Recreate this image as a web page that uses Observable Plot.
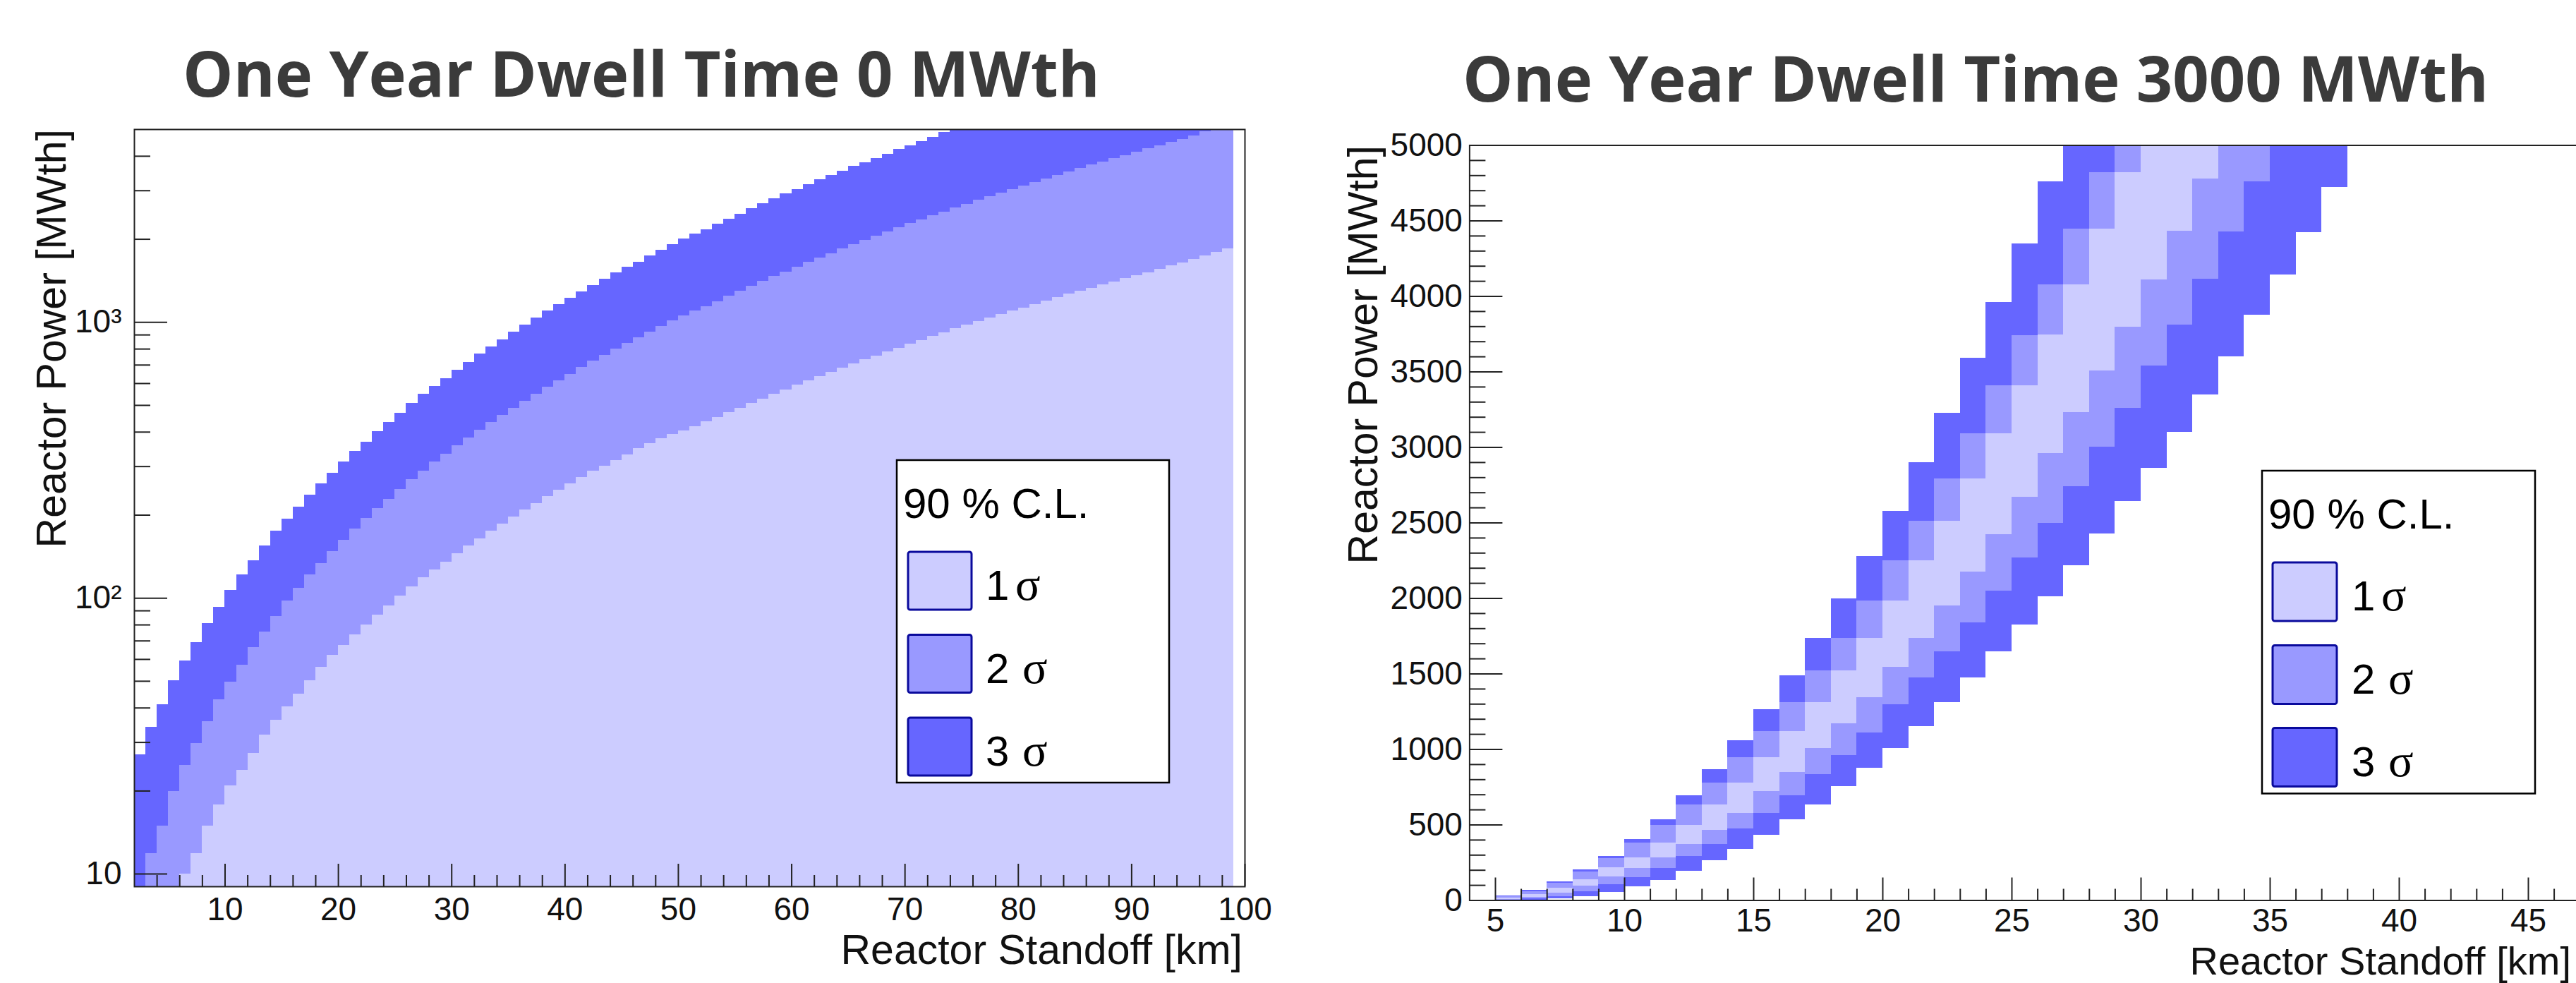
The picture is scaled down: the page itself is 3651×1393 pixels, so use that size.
<!DOCTYPE html>
<html>
<head>
<meta charset="utf-8">
<script src="https://cdn.jsdelivr.net/npm/d3@7"></script>
<script src="https://cdn.jsdelivr.net/npm/@observablehq/plot@0.6"></script>
<style>
  html, body { margin:0; padding:0; background:#fff; }
  body { width:3651px; height:1393px; overflow:hidden; position:relative; }
  #left, #right, #overlay { position:absolute; top:0; }
  #left { left:0; width:1830px; height:1393px; }
  #right { left:1850px; width:2016px; height:1393px; }
  #overlay { left:0; width:3651px; height:1393px; pointer-events:none; }
</style>
</head>
<body>
<div id="left"></div>
<div id="right"></div>
<svg id="overlay" width="3651" height="1393"></svg>
<script>
// ---------- colours ----------
const LIGHT = "#ccccff", MID = "#9999ff", DARK = "#6666ff";

// ---------- left panel: 1 km bins starting at these standoffs ----------
const leftKm = [2,3,4,5,6,7,8,9,10,11,12,13,14,15,16,17,18,19,20,21,22,23,24,25,26,27,28,29,30,31,32,33,34,35,36,37,38,39,40,41,42,43,44,45,46,47,48,49,50,51,52,53,54,55,56,57,58,59,60,61,62,63,64,65,66,67,68,69,70,71,72,73,74,75,76,77,78,79,80,81,82,83,84,85,86,87,88,89,90,91,92,93,94,95,96,97,98];
// upper power limit (MWth) of each sigma region per bin
const left1 = [null,null,null,null,10,11.9,14.9,17.8,20.9,23.8,
  27.4,32.0,36.1,40.3,44.9,50.3,56.1,62.1,67.6,73.8,
  80.1,86.8,94.1,102,109.7,118.5,126.9,135.4,145,154.7,
  164.4,174.7,185.5,197.1,208.6,220.8,233.5,247.2,259.4,274.5,
  288.2,301.3,316.2,331.9,348.5,364.4,378,392,405,420,
  436,452,470,489,509,528,550,570,592,614,
  636,660,684,707,733,757,782,807,834,861,
  890,919,949,976,1008,1037,1067,1098,1129,1161,
  1195,1229,1264,1300,1332,1370,1404,1444,1480,1516,
  1560,1600,1642,1690,1740,1795,1848];
const left2 = [null,11.9,14.9,19.9,24.8,29.8,35.7,42.8,49.7,57.3,
  66.2,75.4,86.1,98.0,108.4,121.4,133.8,148.0,162.4,178.2,
  194.8,211.2,228.9,248.2,269,288.2,311.2,333.3,357,380.8,
  406.2,433.4,460.6,487.3,517.6,550.1,582,615.9,649.1,686.8,
  723.8,759.8,800.8,840.6,882.3,922.3,968.2,1012,1058,1098,
  1142,1190,1243,1295,1354,1410,1468,1522,1585,1650,
  1712,1775,1848,1917,1980,2052,2129,2199,2280,2355,
  2432,2512,2594,2680,2768,2859,2941,3025,3124,3214,
  3320,3415,3513,3614,3718,3824,3933,4030,4145,4264,
  4369,4494,4604,4736,4900,5000,5000];
const left3 = [27.1,34.0,41.1,50.3,59.2,69.0,81.0,93.0,106.7,121.4,
  137,154.7,174.7,194,213.7,236.4,259.4,284.7,312.4,341.6,
  368.7,401.2,435.1,469.8,507.4,547.6,584.4,626,670.6,715.4,
  766.3,813.9,864.8,922.3,980,1037,1098,1157,1224,1290,
  1359,1432,1510,1585,1657,1746,1826,1917,2003,2086,
  2172,2271,2373,2472,2584,2690,2813,2917,3037,3162,
  3292,3400,3541,3672,3793,3933,4078,4229,4369,4530,
  4697,4872,5000,5000,5000,5000,5000,5000,5000,5000,
  5000,5000,5000,5000,5000,5000,5000,5000,5000,5000,
  5000,5000,5000,5000,5000,5000,5000];

// ---------- right panel: 1 km bins, six boundaries per bin (MWth) ----------
const rightKm = [5,6,7,8,9,10,11,12,13,14,15,16,17,18,19,20,21,22,23,24,25,26,27,28,29,30,31,32,33,34,35,36,37];
const r3lo = [0,0,10,28,55,89,131,195,265,339,434,537,632,754,875,1009,1153,1313,1473,1648,1824,2012,2216,2428,2641,2864,3101,3350,3602,3874,4144,4422,4722];
const r2lo = [3,10,28,60,105,153,211,291,371,473,578,696,834,961,1112,1297,1473,1648,1840,2048,2271,2497,2741,3003,3260,3538,3812,4113,4427,4761,5000,5000,5000];
const r1lo = [8,22,50,95,155,211,281,371,466,578,722,850,1009,1169,1345,1543,1738,1952,2175,2421,2670,2960,3230,3505,3796,4110,4430,4778,5000,5000,5000,5000,5000];
const r1hi = [15,38,80,140,215,281,380,498,632,779,946,1121,1313,1520,1738,1984,2249,2511,2792,3092,3411,3745,4075,4444,4820,5000,5000,5000,5000,5000,5000,5000,5000];
const r2hi = [25,60,115,190,278,380,498,632,779,946,1121,1313,1520,1738,1984,2249,2511,2792,3092,3411,3741,4075,4444,4820,5000,5000,5000,5000,5000,5000,5000,5000,5000];
const r3hi = [29,67,125,201,291,402,537,696,866,1057,1265,1489,1738,2000,2278,2575,2900,3226,3590,3958,4350,4760,5000,5000,5000,5000,5000,5000,5000,5000,5000,5000,5000];

// ---------- ticks and labels ----------
const leftYTicks = [10, 100, 1000];
const leftYTickLabels = ["10", "10\u00B2", "10\u00B3"];
const leftYMinor = [20,30,40,50,60,70,80,90,200,300,400,500,600,700,800,900,2000,3000,4000];
const leftXTicks = [10,20,30,40,50,60,70,80,90,100];
const leftXMinor = d3.range(4, 100, 2).filter(v => v % 10 !== 0);
const rightYTicks = [0,500,1000,1500,2000,2500,3000,3500,4000,4500,5000];
const rightYMinor = d3.range(100, 5000, 100).filter(v => v % 500 !== 0);
const rightXTicks = [5,10,15,20,25,30,35,40,45,50];
const rightXLabels = [5,10,15,20,25,30,35,40,45];
const rightXMinor = d3.range(5, 50, 1).filter(v => v % 5 !== 0);

const titles = ["One Year Dwell Time 0 MWth", "One Year Dwell Time 3000 MWth"];
const yTitle = "Reactor Power [MWth]";
const xTitle = "Reactor Standoff [km]";
const legendHeader = "90 % C.L.";
const legendItems = [{n: "1", color: LIGHT}, {n: "2", color: MID}, {n: "3", color: DARK}];

const FONT = "'Liberation Sans', Arial, Helvetica, sans-serif";
const TICKFONT = 46;
const baseStyle = {fontFamily: FONT, fontSize: TICKFONT + "px", color: "#111", background: "transparent", maxWidth: "none", overflow: "visible"};

// ---------- left plot ----------
const LW = 1574, LH = 1073;
const leftRows = leftKm.map((k, i) => ({x1: k, x2: k + 1, s1: left1[i], s2: left2[i], s3: left3[i]}));
const leftPlot = Plot.plot({
  width: 1830, height: 1393,
  marginLeft: 190, marginRight: 66, marginTop: 183, marginBottom: 137,
  x: {domain: [2, 100]},
  y: {type: "log", domain: [9, 5000]},
  style: baseStyle,
  marks: [
    Plot.rect(leftRows.filter(d => d.s3 != null), {x1: "x1", x2: "x2", y1: () => 9, y2: "s3", fill: DARK, shapeRendering: "crispEdges"}),
    Plot.rect(leftRows.filter(d => d.s2 != null), {x1: "x1", x2: "x2", y1: () => 9, y2: "s2", fill: MID, shapeRendering: "crispEdges"}),
    Plot.rect(leftRows.filter(d => d.s1 != null), {x1: "x1", x2: "x2", y1: () => 9, y2: "s1", fill: LIGHT, shapeRendering: "crispEdges"}),
    Plot.tickY(leftYTicks, {y: d => d, insetRight: LW - 47, stroke: "#222", strokeWidth: 2}),
    Plot.tickY(leftYMinor, {y: d => d, insetRight: LW - 23, stroke: "#222", strokeWidth: 2}),
    Plot.tickX(leftXTicks, {x: d => d, insetTop: LH - 32, stroke: "#222", strokeWidth: 2}),
    Plot.tickX(leftXMinor, {x: d => d, insetTop: LH - 16, stroke: "#222", strokeWidth: 2}),
    Plot.frame({stroke: "#222", strokeWidth: 2}),
    Plot.axisY(leftYTicks, {anchor: "left", tickSize: 0, tickPadding: 18, tickFormat: d => leftYTickLabels[leftYTicks.indexOf(d)], label: null, fontSize: TICKFONT}),
    Plot.axisX(leftXTicks, {anchor: "bottom", tickSize: 0, tickPadding: 15, tickFormat: d => String(d), label: null, fontSize: TICKFONT})
  ]
});
document.getElementById("left").appendChild(leftPlot);

// ---------- right plot ----------
const RW = 1683.6, RH = 1070;
const rightRows = rightKm.map((k, i) => ({x1: k, x2: k + 1, a: r3lo[i], b: r2lo[i], c: r1lo[i], d: r1hi[i], e: r2hi[i], f: r3hi[i]}));
const rightPlot = Plot.plot({
  width: 2016, height: 1393,
  marginLeft: 232.4, marginRight: 100, marginTop: 205.5, marginBottom: 117.5,
  x: {domain: [4, 50]},
  y: {domain: [0, 5000]},
  style: baseStyle,
  marks: [
    Plot.rect(rightRows, {x1: "x1", x2: "x2", y1: "a", y2: "f", fill: DARK, shapeRendering: "crispEdges"}),
    Plot.rect(rightRows, {x1: "x1", x2: "x2", y1: "b", y2: "e", fill: MID, shapeRendering: "crispEdges"}),
    Plot.rect(rightRows, {x1: "x1", x2: "x2", y1: "c", y2: "d", fill: LIGHT, shapeRendering: "crispEdges"}),
    Plot.tickY(rightYTicks, {y: d => d, insetRight: RW - 47, stroke: "#222", strokeWidth: 2}),
    Plot.tickY(rightYMinor, {y: d => d, insetRight: RW - 23, stroke: "#222", strokeWidth: 2}),
    Plot.tickX(rightXTicks, {x: d => d, insetTop: RH - 32, stroke: "#222", strokeWidth: 2}),
    Plot.tickX(rightXMinor, {x: d => d, insetTop: RH - 16, stroke: "#222", strokeWidth: 2}),
    Plot.frame({stroke: "#222", strokeWidth: 2}),
    Plot.axisY(rightYTicks, {anchor: "left", tickSize: 0, tickPadding: 10, tickFormat: d => String(d), label: null, fontSize: TICKFONT}),
    Plot.axisX(rightXLabels, {anchor: "bottom", tickSize: 0, tickPadding: 11, tickFormat: d => String(d), label: null, fontSize: TICKFONT})
  ]
});
document.getElementById("right").appendChild(rightPlot);

// ---------- overlay: titles, axis titles, legends ----------
const ov = d3.select("#overlay");
function txt(x, y, s, opts = {}) {
  return ov.append("text").attr("x", x).attr("y", y).text(s)
    .attr("font-family", opts.family || FONT)
    .attr("font-size", opts.size || 59)
    .attr("font-weight", opts.weight || 400)
    .attr("fill", opts.fill || "#111")
    .attr("text-anchor", opts.anchor || "start");
}
// titles
txt(909, 137, titles[0], {family: "'Open Sans', sans-serif", size: 90, weight: 700, fill: "#3b3b3b", anchor: "middle"});
txt(2800, 144, titles[1], {family: "'Open Sans', sans-serif", size: 90, weight: 700, fill: "#3b3b3b", anchor: "middle"});
// axis titles
txt(0, 0, yTitle, {anchor: "end"}).attr("transform", "translate(93,183) rotate(-90)");
txt(0, 0, yTitle, {anchor: "end"}).attr("transform", "translate(1952,206) rotate(-90)");
txt(1761, 1366, xTitle, {anchor: "end"});
txt(3644, 1381, xTitle, {anchor: "end", size: 56});

function legend(L) {
  ov.append("rect").attr("x", L.x).attr("y", L.y).attr("width", L.w).attr("height", L.h)
    .attr("fill", "#fff").attr("stroke", "#000").attr("stroke-width", 2.5);
  txt(L.x + 9, L.y + 82, legendHeader, {size: 60, fill: "#000"});
  legendItems.forEach((it, i) => {
    ov.append("rect").attr("x", L.sx).attr("y", L.sy[i]).attr("width", L.sw).attr("height", L.sh)
      .attr("rx", 3).attr("fill", it.color).attr("stroke", "#0a0a9c").attr("stroke-width", 3);
    txt(L.lx, L.sy[i] + 68, it.n, {size: 60, fill: "#000"});
    txt(L.lx + (i === 0 ? 42 : 52), L.sy[i] + 68, "\u03C3", {family: "'Liberation Serif', 'Times New Roman', serif", size: 66, fill: "#000"});
  });
}
legend({x: 1271, y: 652, w: 386, h: 457, sx: 1287, sy: [782, 899.5, 1017], sw: 90, sh: 82, lx: 1397});
legend({x: 3206, y: 667, w: 387, h: 457.5, sx: 3221, sy: [797, 914.5, 1031.5], sw: 91, sh: 83, lx: 3333});
</script>
</body>
</html>
